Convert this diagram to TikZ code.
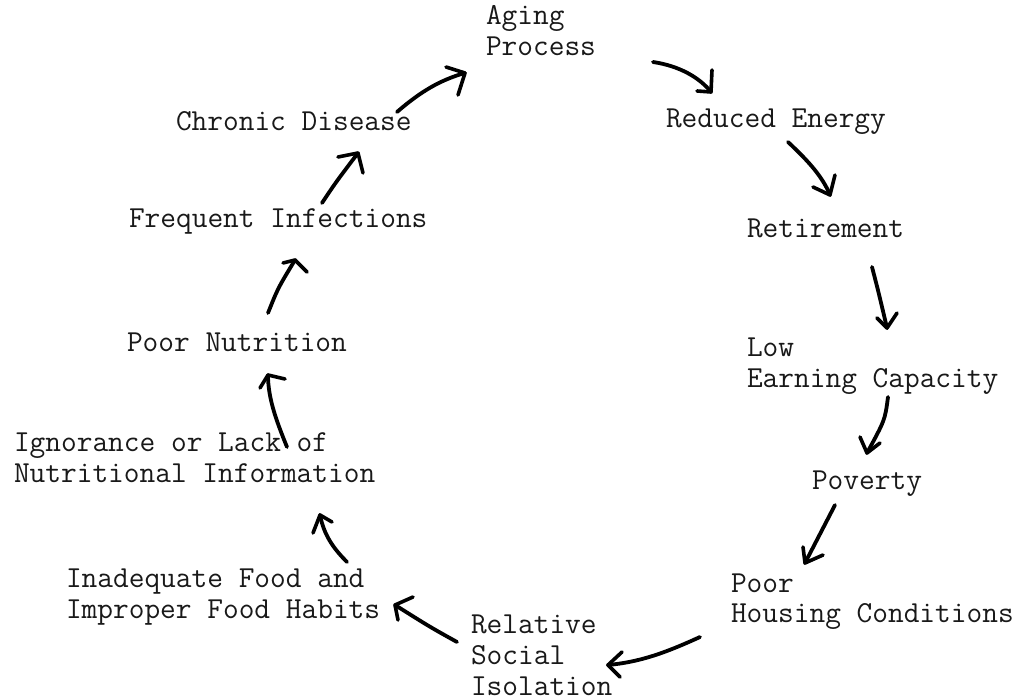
\documentclass[tikz,border=0pt]{standalone}
\begin{document}
\begin{tikzpicture}[x=1pt,y=-1pt,
  lbl/.style={anchor=base west,inner sep=0pt,outer sep=0pt,align=left,
    font=\ttfamily\fontsize{30.5}{31}\selectfont,text=black!90},
  arr/.style={line width=3.8pt,line cap=round,line join=round,black},
  hd/.style={line width=3.6pt,line cap=round,line join=round,black}]
\useasboundingbox (0,0) rectangle (1029,700);
\fill[white] (0,0) rectangle (1029,700);

% texts (anchor = baseline of the last line)
\node[lbl] (aging) at (486,56) {Aging\\Process};
\node[lbl] (reduced) at (666,128) {Reduced Energy};
\node[lbl] (retire) at (747,238) {Retirement};
\node[lbl] (earning) at (747,388) {Low\\Earning Capacity};
\node[lbl] (poverty) at (812,490) {Poverty};
\node[lbl] (housing) at (731,623) {Poor\\Housing Conditions};
\node[lbl] (isolation) at (471,695) {Relative\\Social\\Isolation};
\node[lbl] (food) at (66,618) {Inadequate Food and\\Improper Food Habits};
\node[lbl] (ignorance) at (14,483) {Ignorance or Lack of\\Nutritional Information};
\node[lbl] (nutrition) at (127,352) {Poor Nutrition};
\node[lbl] (infections) at (129,228) {Frequent Infections};
\node[lbl] (chronic) at (176,131) {Chronic Disease};

% connector ends
\coordinate (s1) at (653,62);  \coordinate (t1) at (711,92);
\coordinate (s2) at (788,142); \coordinate (t2) at (830,195);
\coordinate (s3) at (872,267); \coordinate (t3) at (887,328);
\coordinate (s4) at (888,397); \coordinate (t4) at (867,453);
\coordinate (s5) at (835,505); \coordinate (t5) at (805,563);
\coordinate (s6) at (700,637); \coordinate (t6) at (608,665);
\coordinate (s7) at (457,642); \coordinate (t7) at (395,605);
\coordinate (s8) at (347,562); \coordinate (t8) at (320,515);
\coordinate (s9) at (287,447); \coordinate (t9) at (268,375);
\coordinate (s10) at (268,313); \coordinate (t10) at (295,260);
\coordinate (s11) at (322,203); \coordinate (t11) at (358,153);
\coordinate (s12) at (397,112); \coordinate (t12) at (465,73);

% connectors
\draw[arr] (s1) .. controls (680,66) and (700,78) .. (t1);
\draw[hd] (697,91) -- (t1) -- (712,70);
\draw[arr] (s2) .. controls (805,158) and (822,175) .. (t2);
\draw[hd] (813,187) -- (t2) -- (835,175);
\draw[arr] (s3) .. controls (878,290) .. (t3);
\draw[hd] (877,318) -- (t3) -- (897,313);
\draw[arr] (s4) .. controls (885,420) .. (t4);
\draw[hd] (860,437) -- (t4) -- (880,443);
\draw[arr] (s5) -- (t5);
\draw[hd] (803,547) -- (t5) -- (823,555);
\draw[arr] (s6) .. controls (665,653) and (640,662) .. (t6);
\draw[hd] (622,652) -- (t6) -- (620,677);
\draw[arr] (s7) .. controls (430,627) .. (t7);
\draw[hd] (413,597) -- (t7) -- (398,620);
\draw[arr] (s8) .. controls (333,548) and (324,535) .. (t8);
\draw[hd] (313,533) -- (t8) -- (332,522);
\draw[arr] (s9) .. controls (276,420) and (268,398) .. (t9);
\draw[hd] (260,388) -- (t9) -- (285,379);
\draw[arr] (s10) .. controls (278,288) .. (t10);
\draw[hd] (283,263) -- (t10) -- (307,272);
\draw[arr] (s11) .. controls (336,182) .. (t11);
\draw[hd] (338,157) -- (t11) -- (363,173);
\draw[arr] (s12) .. controls (420,92) and (440,80) .. (t12);
\draw[hd] (446,67) -- (t12) -- (458,95);
\end{tikzpicture}
\end{document}
